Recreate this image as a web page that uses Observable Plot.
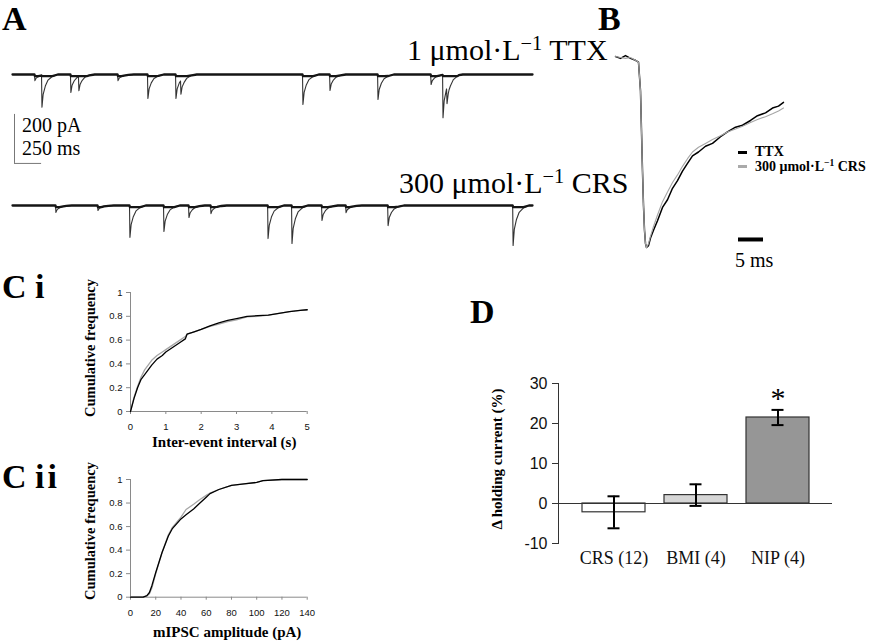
<!DOCTYPE html>
<html>
<head>
<meta charset="utf-8">
<script src="https://cdn.jsdelivr.net/npm/d3@7"></script>
<script src="https://cdn.jsdelivr.net/npm/@observablehq/plot@0.6"></script>
<style>
  body { margin: 0; background: #fff; }
  #fig { position: relative; width: 875px; height: 642px; overflow: hidden; background: #fff;
         font-family: "Liberation Serif", "Times New Roman", serif; color: #000; }
  .abs { position: absolute; white-space: nowrap; line-height: 1; }
  .panel { font-weight: bold; font-size: 34px; }
  .top { line-height: normal; }
  .cond { font-size: 30px; }
  sup { font-size: 0.68em; vertical-align: 0.5em; line-height: 0; }
  .axlab { font-weight: bold; font-size: 15px; }
  .rot { transform: translate(-50%, -50%) rotate(-90deg); }
  .bar { font-size: 20px; }
  .leg { font-weight: bold; font-size: 14px; }
  .dash { position: absolute; height: 2.5px; width: 9px; }
  #fig svg { position: absolute; overflow: visible; background: transparent; }
</style>
</head>
<body>
<div id="fig">
  <div class="abs panel top" style="left:2px;top:0px">A</div>
  <div class="abs panel top" style="left:598px;top:0px">B</div>
  <div class="abs panel" style="left:2px;top:269.5px">C i</div>
  <div class="abs panel" style="left:2px;top:459.5px">C <span style="letter-spacing:3px">ii</span></div>
  <div class="abs panel" style="left:470px;top:294.5px">D</div>

  <div class="abs cond" style="left:407px;top:35px">1 μmol·L<sup>−1</sup> TTX</div>
  <div class="abs cond" style="left:399px;top:168px">300 μmol·L<sup>−1</sup> CRS</div>
  <div class="abs bar" style="left:22px;top:115px">200 pA</div>
  <div class="abs bar" style="left:22px;top:138px">250 ms</div>
  <div class="abs bar" style="left:735px;top:250px">5 ms</div>

  <div class="dash" style="left:738px;top:151px;background:#000"></div>
  <div class="abs leg" style="left:755px;top:145px">TTX</div>
  <div class="dash" style="left:738px;top:165px;background:#aaa"></div>
  <div class="abs leg" style="left:755px;top:160px">300 μmol·L<sup>−1</sup> CRS</div>

  <div class="abs axlab" style="left:152px;top:435px">Inter-event interval (s)</div>
  <div class="abs axlab" style="left:153px;top:624.5px">mIPSC amplitude (pA)</div>
  <div class="abs axlab rot" style="left:90px;top:348px;font-size:14.5px">Cumulative frequency</div>
  <div class="abs axlab rot" style="left:90px;top:531px;font-size:14.5px">Cumulative frequency</div>
  <div class="abs axlab rot" style="left:497px;top:459px">Δ holding current (%)</div>
</div>
<script>
// ---------------- DATA ----------------
// Panel A: miniature events (time in ms, amplitude in pA)
const traceDurationMs = 4800;
const ttxEventTimes = [203, 268, 535, 609, 970, 1246, 1505, 1551, 2677, 2927, 3370, 3860, 3970, 4007];
const ttxEventAmps  = [25, 130, 73, 57, 25, 98, 98, 57, 122, 65, 102, 41, 175, 65];
const crsEventTimes = [397, 785, 1080, 1394, 1625, 1828, 2355, 2576, 2853, 3075, 3463, 4617];
const crsEventAmps  = [28, 20, 130, 106, 49, 33, 135, 155, 61, 29, 82, 163];
// event waveform (ms after onset, fraction of peak)
const eventShapeMs   = [0, 4, 15, 35, 60, 100, 150];
const eventShapeFrac = [0, 1, 0.6, 0.35, 0.17, 0.06, 0];
const scaleBarPA = 200;
const scaleBarMs = 250;

// Panel B: averaged mIPSC (time ms, normalised current)
const bTime = [0, 1, 2, 3, 4, 4.6, 5, 5.2, 5.4, 5.6, 5.8, 6, 6.2, 6.6, 7, 7.6, 8.4, 9.4, 10.4, 11.4, 12.4,
               13.4, 14.4, 15.4, 16.6, 18, 19.4, 21, 22.4, 24, 25.4, 27, 28.4, 30, 31.4, 32.6, 33.6];
const bTTX  = [0, -0.01, 0.005, -0.01, -0.02, -0.03, -0.18, -0.39, -0.6, -0.78, -0.91, -0.98, -1.0, -0.99,
               -0.95, -0.91, -0.86, -0.79, -0.75, -0.69, -0.65, -0.6, -0.56, -0.52, -0.5, -0.47, -0.455,
               -0.42, -0.395, -0.37, -0.36, -0.335, -0.31, -0.295, -0.27, -0.26, -0.24];
const bCRS  = [0, -0.005, -0.01, -0.005, -0.02, -0.03, -0.18, -0.39, -0.6, -0.78, -0.91, -0.98, -1.0, -0.98,
               -0.94, -0.89, -0.83, -0.76, -0.71, -0.66, -0.62, -0.575, -0.535, -0.5, -0.475, -0.455, -0.435,
               -0.415, -0.395, -0.38, -0.365, -0.345, -0.33, -0.315, -0.3, -0.285, -0.27];
const bScaleBarMs = 5;

// Panel Ci: cumulative inter-event interval distributions
const ciInterval = [0, 0.1, 0.2, 0.3, 0.4, 0.5, 0.6, 0.75, 0.9, 1.0, 1.2, 1.4, 1.55, 1.6, 1.8, 2.0, 2.25,
                    2.5, 2.75, 3.0, 3.3, 3.6, 3.9, 4.2, 4.5, 4.8, 5.0];
const ciTTX = [0, 0.11, 0.2, 0.27, 0.31, 0.35, 0.39, 0.44, 0.47, 0.5, 0.54, 0.58, 0.61, 0.65, 0.67, 0.69,
               0.72, 0.745, 0.765, 0.78, 0.8, 0.805, 0.81, 0.825, 0.84, 0.85, 0.855];
const ciCRS = [0, 0.12, 0.21, 0.29, 0.35, 0.39, 0.43, 0.47, 0.5, 0.52, 0.56, 0.6, 0.63, 0.65, 0.67, 0.69,
               0.715, 0.735, 0.755, 0.77, 0.795, 0.8, 0.81, 0.825, 0.84, 0.85, 0.855];
const ciXTicks = [0, 1, 2, 3, 4, 5];

// Panel Cii: cumulative mIPSC amplitude distributions
const ciiAmp = [0, 10, 13, 15, 17, 20, 25, 30, 33, 40, 44, 50, 55, 60, 63, 70, 80, 90, 100, 105, 120, 140];
const ciiTTX = [0, 0, 0.014, 0.04, 0.1, 0.21, 0.38, 0.52, 0.58, 0.665, 0.7, 0.75, 0.8, 0.85, 0.88, 0.915,
                0.95, 0.963, 0.975, 0.99, 1, 1];
const ciiCRS = [0, 0, 0.01, 0.03, 0.08, 0.2, 0.38, 0.53, 0.59, 0.68, 0.745, 0.79, 0.83, 0.865, 0.885, 0.915,
                0.95, 0.963, 0.975, 0.99, 1, 1];
const ciiXTicks = [0, 20, 40, 60, 80, 100, 120, 140];
const cumYTicks = [0, 0.2, 0.4, 0.6, 0.8, 1];

// Panel D: change in holding current
const dGroups = ["CRS (12)", "BMI (4)", "NIP (4)"];
const dMeans  = [-2.2, 2.1, 21.5];
const dErrs   = [4.0, 2.7, 1.9];
const dSignificant = [false, false, true];
const dYTicks = [-10, 0, 10, 20, 30];

// ---------------- STYLE ----------------
const serif = "Liberation Serif, Times New Roman, serif";
const sans = "Liberation Sans, Arial, sans-serif";
const axisGray = "#8a8a8a";
const crsGray = "#a6a6a6";
const dFill = {"CRS (12)": "#ffffff", "BMI (4)": "#d6d6d6", "NIP (4)": "#969696"};
const baseStyle = {background: "transparent", overflow: "visible"};

// ---------------- HELPERS ----------------
function shapeAt(dt) {
  const n = eventShapeMs.length;
  if (dt < 0 || dt >= eventShapeMs[n - 1]) return 0;
  for (let k = 0; k < n - 1; k++) {
    const a = eventShapeMs[k], b = eventShapeMs[k + 1];
    if (dt >= a && dt <= b) {
      const f = (dt - a) / (b - a);
      return eventShapeFrac[k] + f * (eventShapeFrac[k + 1] - eventShapeFrac[k]);
    }
  }
  return 0;
}
function buildTrace(times, amps) {
  const ts = new Set([0, traceDurationMs]);
  times.forEach(t => { ts.add(t - 1); eventShapeMs.forEach(o => ts.add(t + o)); });
  return [...ts].filter(t => t >= 0 && t <= traceDurationMs).sort((a, b) => a - b)
    .map(t => ({t, v: -d3.sum(times, (e, i) => amps[i] * shapeAt(t - e))}));
}
function place(svg, left, top) {
  svg.style.left = left + "px";
  svg.style.top = top + "px";
  document.getElementById("fig").appendChild(svg);
}

// ---------------- PANEL A ----------------
function tracePlot(trace, height, baseline, withBar) {
  const marks = [
    Plot.line(trace, {x: "t", y: "v", stroke: "#333", strokeWidth: 1.1}),
    Plot.line(trace, {x: "t", y: d => Math.max(d.v, -7), stroke: "#151515", strokeWidth: 2.3})
  ];
  if (withBar) {
    const barTop = -163, x0 = 18.5;
    marks.push(Plot.ruleX([x0], {y1: () => barTop, y2: () => barTop - scaleBarPA, stroke: "#777", strokeWidth: 1}));
    marks.push(Plot.ruleY([barTop - scaleBarPA], {x1: () => x0, x2: () => x0 + scaleBarMs, stroke: "#777", strokeWidth: 1}));
  }
  return Plot.plot({
    width: 545, height,
    x: {domain: [0, traceDurationMs], range: [12, 532], axis: null},
    y: {domain: [0, -scaleBarPA], range: [baseline, baseline + 49], axis: null},
    style: baseStyle,
    marks
  });
}
place(tracePlot(buildTrace(ttxEventTimes, ttxEventAmps), 140, 44, true), 0, 30);
place(tracePlot(buildTrace(crsEventTimes, crsEventAmps), 80, 25, false), 0, 180);

// ---------------- PANEL B ----------------
const bData = bTime.map((t, i) => ({t, ttx: bTTX[i], crs: bCRS[i]}));
place(Plot.plot({
  width: 200, height: 230,
  x: {domain: [0, 33.6], range: [15, 183], axis: null},
  y: {domain: [-1, 0], range: [207, 16], axis: null},
  style: baseStyle,
  marks: [
    Plot.line(bData, {x: "t", y: "ttx", stroke: "#000", strokeWidth: 1.5}),
    Plot.line(bData, {x: "t", y: "crs", stroke: crsGray, strokeWidth: 1.1}),
    Plot.ruleY([-0.958], {x1: () => 24.6, x2: () => 24.6 + bScaleBarMs, stroke: "#000", strokeWidth: 4})
  ]
}), 600, 40);

// ---------------- PANEL C ----------------
function cumPlot(xs, ttx, crs, xDomain, xTicks, height, mTop, mBottom) {
  const data = xs.map((x, i) => ({x, ttx: ttx[i], crs: crs[i]}));
  return Plot.plot({
    width: 240, height,
    marginLeft: 50, marginRight: 13.3, marginTop: mTop, marginBottom: mBottom,
    x: {domain: xDomain},
    y: {domain: [0, 1]},
    style: baseStyle,
    marks: [
      Plot.ruleY([0], {stroke: axisGray}),
      Plot.ruleX([xDomain[0]], {stroke: axisGray}),
      Plot.axisX({ticks: xTicks, tickSize: 3, tickPadding: 9, stroke: axisGray, fill: "#111",
                  fontSize: 9.5, fontFamily: sans, label: null, tickFormat: d => String(d)}),
      Plot.axisY({ticks: cumYTicks, tickSize: 4, tickPadding: 4, stroke: axisGray, fill: "#111",
                  fontSize: 9.5, fontFamily: sans, label: null, tickFormat: d => String(+d.toFixed(1))}),
      Plot.line(data, {x: "x", y: "crs", stroke: crsGray, strokeWidth: 1.3}),
      Plot.line(data, {x: "x", y: "ttx", stroke: "#000", strokeWidth: 1.3})
    ]
  });
}
place(cumPlot(ciInterval, ciTTX, ciCRS, [0, 5], ciXTicks, 165, 12, 34), 80, 280);
place(cumPlot(ciiAmp, ciiTTX, ciiCRS, [0, 140], ciiXTicks, 155, 14, 23.3), 80, 465);

// ---------------- PANEL D ----------------
const dData = dGroups.map((g, i) => ({group: g, mean: dMeans[i], err: dErrs[i], sig: dSignificant[i]}));
place(Plot.plot({
  width: 380, height: 220,
  marginLeft: 88, marginRight: 18, marginTop: 23, marginBottom: 37,
  x: {type: "band", domain: dGroups, range: [102, 348], paddingInner: 0.232, paddingOuter: 0.116},
  y: {domain: [-10, 30]},
  style: baseStyle,
  marks: [
    Plot.barY(dData, {x: "group", y: "mean", fill: d => dFill[d.group], stroke: "#333", strokeWidth: 1.2}),
    Plot.ruleY([0], {stroke: "#333", strokeWidth: 1}),
    Plot.frame({anchor: "left", stroke: "#333", strokeWidth: 1}),
    Plot.axisY({ticks: dYTicks, tickSize: 6, tickPadding: 5, stroke: "#333", fill: "#111",
                fontSize: 16, fontFamily: sans, label: null, tickFormat: d => String(d)}),
    Plot.axisX({tickSize: 0, tickPadding: 8, fill: "#111", fontSize: 18, fontFamily: serif, label: null}),
    Plot.ruleX(dData, {x: "group", y1: d => d.mean - d.err, y2: d => d.mean + d.err, stroke: "#000", strokeWidth: 2}),
    Plot.tickY(dData, {x: "group", y: d => d.mean + d.err, stroke: "#000", strokeWidth: 2, insetLeft: 25.5, insetRight: 25.5}),
    Plot.tickY(dData, {x: "group", y: d => d.mean - d.err, stroke: "#000", strokeWidth: 2, insetLeft: 25.5, insetRight: 25.5}),
    Plot.text(dData.filter(d => d.sig), {x: "group", y: d => d.mean + d.err, text: () => "*", dy: -12,
              fontSize: 30, fontFamily: serif, fill: "#000"})
  ]
}), 470, 360);
</script>
</body>
</html>
